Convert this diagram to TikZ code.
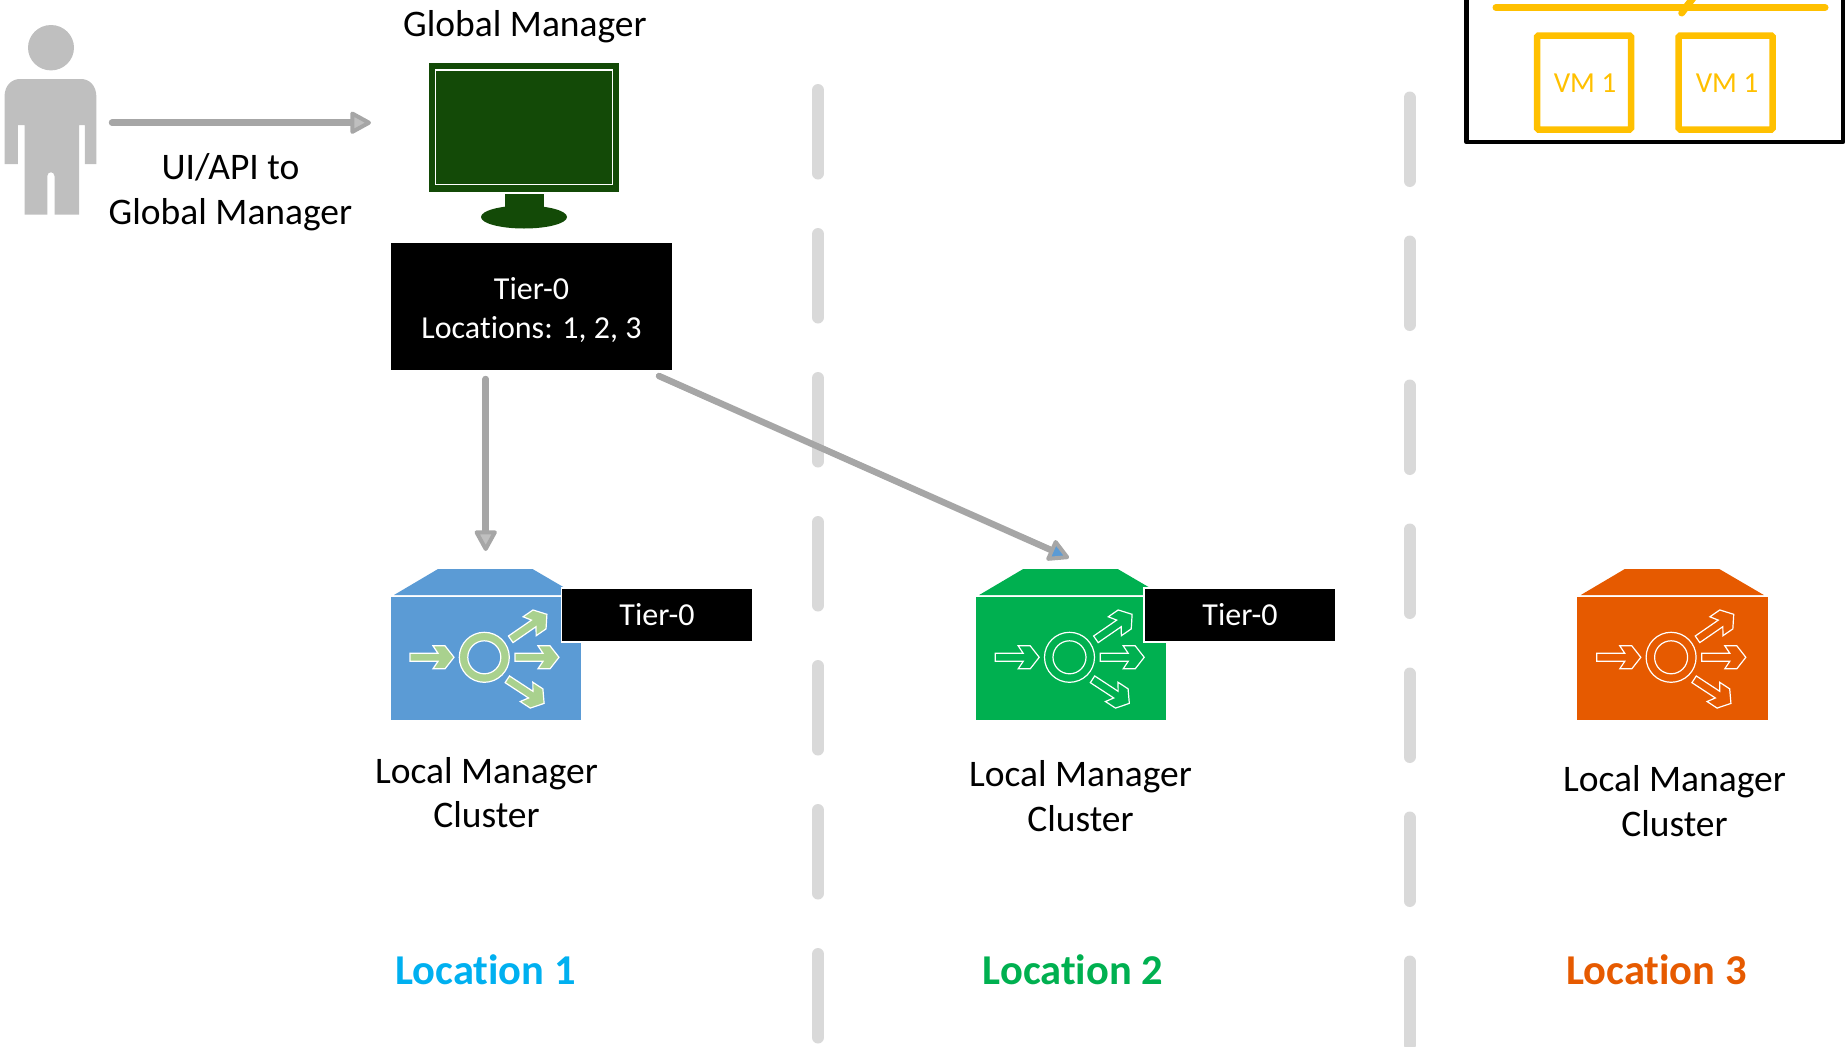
\documentclass[tikz,border=0pt]{standalone}
\usepackage{fontspec}
\setmainfont{Carlito}[Ligatures=NoCommon]
\usetikzlibrary{arrows.meta,calc}
\definecolor{cgray}{HTML}{A6A6A6}
\definecolor{cperson}{HTML}{BFBFBF}
\definecolor{cdash}{HTML}{D9D9D9}
\definecolor{cmon}{HTML}{134A07}
\definecolor{cblue}{HTML}{5B9BD5}
\definecolor{cgreen}{HTML}{00B050}
\definecolor{corange}{HTML}{E65A00}
\definecolor{cleaf}{HTML}{A9D18E}
\definecolor{cyel}{HTML}{FFC000}
\definecolor{ccyan}{HTML}{00B0F0}
\tikzset{
  x=1pt,y=-1pt,
  lbl/.style={font=\fontsize{37.5}{44.5}\selectfont,align=center,inner sep=0pt,text=black},
  loc/.style={font=\fontsize{42.5}{44}\selectfont\bfseries,inner sep=0pt},
  blackbox/.style={fill=black,draw=white,line width=1.2pt,inner sep=0pt,text=white,align=center},
  whitetxt/.style={font=\fontsize{32}{39}\selectfont},
  conn/.style={draw=cgray,line width=6.5pt,line cap=round},
  tipa/.style={-{Triangle[length=23pt,width=24pt,round,line width=4pt,fill=#1]}},
  sep/.style={draw=cdash,line width=12pt,line cap=round,dash pattern=on 83.5pt off 60.5pt},
  vmbox/.style={draw=cyel,line width=6.5pt,rounded corners=1.5pt,minimum width=94pt,minimum height=94pt,inner sep=0pt},
  vmtxt/.style={font=\fontsize{29}{34}\selectfont,text=cyel,inner sep=0pt},
  pics/lmc/.style args={#1/#2}{code={
    \fill[#1] (3.5,26) -- (47.5,0) -- (142,0) -- (186.5,26) -- cycle;
    \fill[#1] (0,28) rectangle (190.5,151);
    \draw[white,line width=1.2pt,fill=#2] (93.8,88.3) circle (25pt);
    \draw[white,line width=1.2pt,fill=#1] (93.8,88.3) circle (16.5pt);
    \foreach \tx/\ty/\ang in {19.5/88.3/0, 124.5/88.3/0, 120.2/70.3/34.6, 116.8/110.3/-33.2}{
      \begin{scope}[shift={(\tx,\ty)},rotate=\ang]
        \draw[white,line width=1.2pt,fill=#2,line join=miter]
          (0,-4) -- (28,-4) -- (23,-11.5) -- (35,-11.5) -- (44,0) -- (35,11.5) -- (23,11.5) -- (28,4) -- (0,4) -- cycle;
      \end{scope}
    }
  }}
}
\begin{document}
\begin{tikzpicture}
\useasboundingbox (0,0) rectangle (1845,1047);
\clip (0,0) rectangle (1845,1047);

% separators
\coordinate (s1a) at (818,90);   \coordinate (s1b) at (818,1060);
\coordinate (s2a) at (1409.5,97.5); \coordinate (s2b) at (1409.5,1060);
\draw[sep] (s1a) -- (s1b);
\draw[sep] (s2a) -- (s2b);

% person
\fill[cperson] (51,47.7) ellipse (23pt and 22.7pt);
\fill[cperson] (4.5,164) -- (4.5,97) .. controls (4.5,85) and (12,79) .. (20,79)
  -- (81,79) .. controls (89,79) and (96.4,85) .. (96.4,97) -- (96.4,164) -- (84.8,164)
  -- (84.8,125) -- (79,125) -- (79,214.7) -- (54.5,214.7) -- (54.5,176)
  .. controls (54.5,171) and (47.3,171) .. (47.3,176) -- (47.3,214.7) -- (24.5,214.7)
  -- (24.5,125) -- (17.9,125) -- (17.9,164) -- cycle;

% monitor
\fill[cmon] (429,63.3) rectangle (619,191.7);
\draw[white,line width=1.6pt] (435.5,70) rectangle (612.5,184.5);
\fill[cmon] (505,194) rectangle (543.5,212);
\fill[cmon] (524,217) ellipse (43pt and 11.5pt);

\node[lbl] (gmlabel) at (525,26.5) {Global Manager};
\node[lbl] (uilabel) at (230.5,192) {UI/API to\\Global Manager};

% tier-0 global
\node[blackbox,minimum width=283pt,minimum height=128pt] (t0) at (531.5,306.5) {};
\node[whitetxt,text=white,align=center,inner sep=0pt] (t0txt) at (531.5,310) {Tier-0\\Locations: 1, 2, 3};

% local manager clusters
\pic (lm1) at (390.5,569) {lmc={cblue/cleaf}};
\pic (lm2) at (975.7,569) {lmc={cgreen/cgreen}};
\pic (lm3) at (1577.3,569) {lmc={corange/corange}};

\node[blackbox,whitetxt,minimum width=191pt,minimum height=54pt] (t1) at (657,615) {Tier-0};
\node[blackbox,whitetxt,minimum width=192pt,minimum height=54pt] (t2) at (1240,615) {Tier-0};

\node[lbl] (lml1) at (486.5,792.5) {Local Manager\\Cluster};
\node[lbl] (lml2) at (1080.5,796) {Local Manager\\Cluster};
\node[lbl] (lml3) at (1674.5,801) {Local Manager\\Cluster};

\node[loc,text=ccyan] (loc1) at (485.5,970) {Location 1};
\node[loc,text=cgreen] (loc2) at (1073,970) {Location 2};
\node[loc,text=corange] (loc3) at (1656.5,970) {Location 3};

% connectors
\coordinate (p1) at (112,122.7); \coordinate (p2) at (371,122.7);
\coordinate (d1) at (485.7,379); \coordinate (d2) at (485.7,551);
\coordinate (e1) at (659,376); \coordinate (e2) at (1069,558);
\draw[conn,tipa=cperson] (p1) -- (p2);
\draw[conn,tipa=cperson] (d1) -- (d2);
\draw[conn,tipa=cblue] (e1) -- (e2);

% top right legend
\draw[black,line width=4.5pt,line join=round] (1466.5,-10) rectangle (1843,142);
\coordinate (y1) at (1496,7.5); \coordinate (y2) at (1825,7.5);
\coordinate (y3) at (1681.7,13); \coordinate (y4) at (1693,-2);
\draw[cyel,line width=7pt,line cap=round] (y1) -- (y2);
\draw[cyel,line width=7pt,line cap=round] (y3) -- (y4);
\node[vmbox] (vm1) at (1584,82.5) {};
\node[vmbox] (vm2) at (1725.7,82.5) {};
\node[vmtxt] (vm1t) at (1585,83) {VM 1};
\node[vmtxt] (vm2t) at (1727,83) {VM 1};
\end{tikzpicture}
\end{document}
